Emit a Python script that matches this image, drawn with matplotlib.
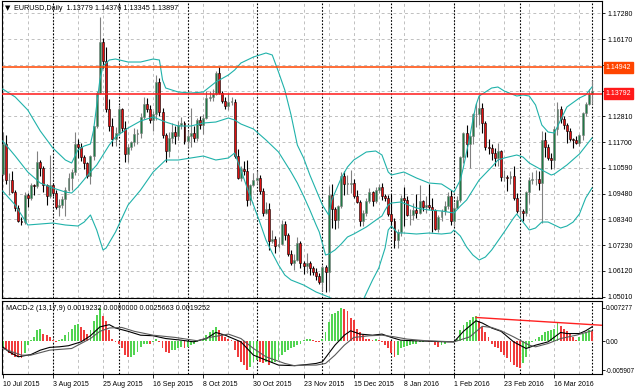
import matplotlib
matplotlib.use('Agg')
import matplotlib.pyplot as plt

plt.rcParams['font.family'] = ['Liberation Sans', 'DejaVu Sans']

# ---------------- data ----------------
opens = [1.1033, 1.1160, 1.1005, 1.1005, 1.0955, 1.0885, 1.0830, 1.0825, 1.0940, 1.0930,
         1.0985, 1.0980, 1.1085, 1.1060, 1.0985, 1.0935, 1.0985, 1.0950, 1.0890, 1.0900,
         1.0925, 1.0965, 1.1015, 1.1040, 1.1160, 1.1150, 1.1105, 1.1080, 1.1025, 1.1110,
         1.1240, 1.1385, 1.1605, 1.1520, 1.1315, 1.1240, 1.1185, 1.1210, 1.1315, 1.1230,
         1.1120, 1.1150, 1.1170, 1.1205, 1.1210, 1.1280, 1.1335, 1.1315, 1.1265, 1.1290,
         1.1430, 1.1300, 1.1200, 1.1130, 1.1190, 1.1215, 1.1195, 1.1245, 1.1255, 1.1175,
         1.1195, 1.1210, 1.1190, 1.1265, 1.1245, 1.1275, 1.1360, 1.1365, 1.1380, 1.1470,
         1.1385, 1.1350, 1.1325, 1.1345, 1.1345, 1.1110, 1.1015, 1.1055, 1.1045, 1.0920,
         1.0985, 1.1005, 1.1015, 1.0960, 1.0865, 1.0880, 1.0740, 1.0750, 1.0720, 1.0730,
         1.0815, 1.0770, 1.0685, 1.0645, 1.0660, 1.0735, 1.0645, 1.0635, 1.0645, 1.0625,
         1.0610, 1.0590, 1.0565, 1.0630, 1.0610, 1.0940, 1.0880, 1.0835, 1.0895, 1.1025,
         1.0990, 1.0990, 1.0995, 1.0935, 1.0910, 1.0830, 1.0865, 1.0915, 1.0955, 1.0915,
         1.0965, 1.0975, 1.0935, 1.0930, 1.0860, 1.0830, 1.0745, 1.0780, 1.0930, 1.0920,
         1.0855, 1.0855, 1.0875, 1.0865, 1.0915, 1.0890, 1.0900, 1.0890, 1.0875, 1.0795,
         1.0845, 1.0870, 1.0895, 1.0935, 1.0830, 1.0885, 1.0920, 1.1105, 1.1210, 1.1160,
         1.1195, 1.1290, 1.1290, 1.1320, 1.1255, 1.1150, 1.1145, 1.1125, 1.1100, 1.1130,
         1.1020, 1.1020, 1.1015, 1.1025, 1.0930, 1.0870, 1.0870, 1.0865, 1.0955, 1.1005,
         1.1010, 1.1010, 1.0995, 1.1180, 1.1150, 1.1100, 1.1095, 1.1225, 1.1315, 1.1270,
         1.1245, 1.1220, 1.1185, 1.1180, 1.1165, 1.1200, 1.1295, 1.1335, 1.13779]
highs = [1.1215, 1.1200, 1.1035, 1.1045, 1.0965, 1.0900, 1.0845, 1.0955, 1.0950, 1.0995,
         1.0990, 1.1130, 1.1095, 1.1065, 1.0990, 1.1115, 1.0995, 1.0965, 1.0925, 1.0935,
         1.0975, 1.1035, 1.1055, 1.1215, 1.1185, 1.1165, 1.1115, 1.1085, 1.1115, 1.1240,
         1.1390, 1.1714, 1.1620, 1.1580, 1.1355, 1.1275, 1.1235, 1.1330, 1.1320, 1.1260,
         1.1160, 1.1175, 1.1230, 1.1225, 1.1295, 1.1365, 1.1360, 1.1330, 1.1305, 1.1460,
         1.1450, 1.1320, 1.1210, 1.1215, 1.1255, 1.1240, 1.1260, 1.1280, 1.1260, 1.1220,
         1.1320, 1.1240, 1.1275, 1.1285, 1.1290, 1.1390, 1.1390, 1.1400, 1.1480, 1.1495,
         1.1390, 1.1365, 1.1385, 1.1365, 1.1355, 1.1140, 1.1065, 1.1090, 1.1095, 1.0990,
         1.1035, 1.1045, 1.1030, 1.0970, 1.0910, 1.0905, 1.0790, 1.0765, 1.0760, 1.0835,
         1.0830, 1.0775, 1.0705, 1.0685, 1.0760, 1.0740, 1.0655, 1.0690, 1.0655, 1.0635,
         1.0625, 1.0605, 1.0640, 1.0640, 1.0980, 1.0990, 1.0890, 1.0900, 1.1040, 1.1045,
         1.1030, 1.1050, 1.1010, 1.0965, 1.0920, 1.0875, 1.0930, 1.0970, 1.0960, 1.0975,
         1.0990, 1.0995, 1.0945, 1.0940, 1.0945, 1.0840, 1.0795, 1.0940, 1.0975, 1.0935,
         1.0880, 1.0905, 1.0945, 1.0985, 1.0920, 1.0935, 1.0990, 1.0930, 1.0880, 1.0855,
         1.0880, 1.0915, 1.0955, 1.0965, 1.0905, 1.0935, 1.1110, 1.1215, 1.1245, 1.1200,
         1.1295, 1.1340, 1.1376, 1.1340, 1.1260, 1.1185, 1.1160, 1.1145, 1.1165, 1.1135,
         1.1050, 1.1030, 1.1045, 1.1065, 1.0950, 1.0890, 1.0880, 1.0960, 1.1020, 1.1040,
         1.1050, 1.1045, 1.1218, 1.1215, 1.1160, 1.1125, 1.1240, 1.1342, 1.1325, 1.1285,
         1.1255, 1.1230, 1.1190, 1.1195, 1.1205, 1.1300, 1.1345, 1.1400, 1.14376]
lows = [1.1030, 1.0990, 1.0940, 1.0950, 1.0870, 1.0825, 1.0810, 1.0815, 1.0890, 1.0920,
        1.0940, 1.0970, 1.1025, 1.0955, 1.0900, 1.0930, 1.0935, 1.0880, 1.0850, 1.0885,
        1.0850, 1.0960, 1.0965, 1.1030, 1.1100, 1.1090, 1.1055, 1.1015, 1.0990, 1.1095,
        1.1230, 1.1380, 1.1490, 1.1300, 1.1220, 1.1155, 1.1155, 1.1200, 1.1215, 1.1085,
        1.1085, 1.1135, 1.1155, 1.1160, 1.1190, 1.1270, 1.1300, 1.1255, 1.1220, 1.1265,
        1.1285, 1.1190, 1.1085, 1.1105, 1.1165, 1.1160, 1.1180, 1.1225, 1.1160, 1.1150,
        1.1150, 1.1170, 1.1175, 1.1225, 1.1205, 1.1270, 1.1350, 1.1350, 1.1375, 1.1380,
        1.1340, 1.1315, 1.1310, 1.1330, 1.1100, 1.1010, 1.1000, 1.1030, 1.0895, 1.0900,
        1.0980, 1.0990, 1.0945, 1.0850, 1.0860, 1.0705, 1.0735, 1.0690, 1.0710, 1.0725,
        1.0745, 1.0675, 1.0640, 1.0615, 1.0655, 1.0625, 1.0600, 1.0605, 1.0595, 1.0595,
        1.0575, 1.0555, 1.0525, 1.0520, 1.0525, 1.0800, 1.0795, 1.0800, 1.0885, 1.0940,
        1.0945, 1.0950, 1.0930, 1.0905, 1.0805, 1.0805, 1.0850, 1.0905, 1.0895, 1.0905,
        1.0950, 1.0920, 1.0915, 1.0850, 1.0800, 1.0710, 1.0710, 1.0765, 1.0805, 1.0850,
        1.0810, 1.0835, 1.0840, 1.0860, 1.0870, 1.0865, 1.0880, 1.0780, 1.0790, 1.0780,
        1.0830, 1.0855, 1.0880, 1.0810, 1.0805, 1.0885, 1.0910, 1.1080, 1.1105, 1.1060,
        1.1160, 1.1235, 1.1245, 1.1210, 1.1135, 1.1120, 1.1095, 1.1065, 1.1065, 1.1000,
        1.1000, 1.0960, 1.0990, 1.0920, 1.0865, 1.0840, 1.0830, 1.0850, 1.0905, 1.0990,
        1.0985, 1.0965, 1.0822, 1.1105, 1.1095, 1.1055, 1.1060, 1.1200, 1.1255, 1.1225,
        1.1165, 1.1175, 1.1145, 1.1160, 1.1155, 1.1180, 1.1285, 1.1330, 1.13345]
closes = [1.1160, 1.1005, 1.1005, 1.0955, 1.0885, 1.0830, 1.0825, 1.0940, 1.0930, 1.0985,
          1.0980, 1.1085, 1.1060, 1.0985, 1.0935, 1.0985, 1.0950, 1.0890, 1.0900, 1.0925,
          1.0965, 1.1015, 1.1040, 1.1160, 1.1150, 1.1105, 1.1080, 1.1025, 1.1110, 1.1240,
          1.1385, 1.1605, 1.1520, 1.1315, 1.1240, 1.1185, 1.1210, 1.1315, 1.1230, 1.1120,
          1.1150, 1.1170, 1.1205, 1.1210, 1.1280, 1.1335, 1.1315, 1.1265, 1.1290, 1.1430,
          1.1300, 1.1200, 1.1130, 1.1190, 1.1215, 1.1195, 1.1245, 1.1255, 1.1175, 1.1195,
          1.1210, 1.1190, 1.1265, 1.1245, 1.1275, 1.1360, 1.1365, 1.1380, 1.1470, 1.1385,
          1.1350, 1.1325, 1.1345, 1.1345, 1.1110, 1.1015, 1.1055, 1.1045, 1.0920, 1.0985,
          1.1005, 1.1015, 1.0960, 1.0865, 1.0880, 1.0740, 1.0750, 1.0720, 1.0730, 1.0815,
          1.0770, 1.0685, 1.0645, 1.0660, 1.0735, 1.0645, 1.0635, 1.0645, 1.0625, 1.0610,
          1.0590, 1.0565, 1.0630, 1.0610, 1.0940, 1.0880, 1.0835, 1.0895, 1.1025, 1.0990,
          1.0990, 1.0995, 1.0935, 1.0910, 1.0830, 1.0865, 1.0915, 1.0955, 1.0915, 1.0965,
          1.0975, 1.0935, 1.0930, 1.0860, 1.0830, 1.0745, 1.0780, 1.0930, 1.0920, 1.0855,
          1.0855, 1.0875, 1.0865, 1.0915, 1.0890, 1.0900, 1.0890, 1.0875, 1.0795, 1.0845,
          1.0870, 1.0895, 1.0935, 1.0830, 1.0885, 1.0920, 1.1105, 1.1210, 1.1160, 1.1195,
          1.1290, 1.1290, 1.1320, 1.1255, 1.1150, 1.1145, 1.1125, 1.1100, 1.1130, 1.1020,
          1.1020, 1.1015, 1.1025, 1.0930, 1.0870, 1.0870, 1.0865, 1.0955, 1.1005, 1.1010,
          1.1010, 1.0995, 1.1180, 1.1150, 1.1100, 1.1095, 1.1225, 1.1315, 1.1270, 1.1245,
          1.1220, 1.1185, 1.1180, 1.1165, 1.1200, 1.1295, 1.1335, 1.1380, 1.13897]

# Bollinger bands read at sample bars
bb_up_idx = [0, 4, 8, 12, 16, 20, 22, 24, 26, 28, 29, 30, 31, 32, 34, 36, 40, 44, 48, 50,
             51, 52, 56, 60, 64, 66, 68, 72, 74, 76, 80, 84, 86, 88, 90, 92, 94, 96, 98, 100,
             102, 104, 105, 108, 110, 112, 116, 119, 121, 123, 124, 128, 132, 136, 140, 143,
             144, 146, 147, 148, 149, 150, 151, 152, 156, 158, 160, 164, 166, 168, 170, 172,
             174, 176, 178, 180, 184, 186, 188]
bb_up = [1.14002, 1.13656, 1.13093, 1.12184, 1.11448, 1.10928, 1.10798, 1.11361, 1.11534,
         1.11621, 1.12227, 1.13310, 1.14392, 1.14998, 1.15258, 1.15301, 1.15171, 1.15171,
         1.15301, 1.15258, 1.14392, 1.14046, 1.13872, 1.13829, 1.13872, 1.14089, 1.14305,
         1.14609, 1.14825, 1.15128, 1.15388, 1.15561, 1.15475, 1.14738, 1.13959, 1.12877,
         1.11578, 1.11015, 1.10279, 1.09629, 1.08980, 1.08547, 1.09196, 1.10149, 1.10625,
         1.10928, 1.11274, 1.11318, 1.11145, 1.10408, 1.10279, 1.10408, 1.10149, 1.09932,
         1.09889, 1.09629, 1.09542, 1.10062, 1.10625, 1.11274, 1.11924, 1.12660, 1.13310,
         1.13699, 1.14046, 1.14089, 1.13916, 1.13699, 1.13743, 1.13699, 1.13310, 1.12444,
         1.12140, 1.12097, 1.12660, 1.13223, 1.13613, 1.13743, 1.14089]
bb_mid_idx = [0, 4, 8, 12, 16, 20, 22, 24, 28, 30, 32, 34, 36, 40, 44, 48, 52, 56, 60, 64,
              68, 72, 74, 76, 80, 84, 88, 92, 94, 96, 98, 100, 101, 103, 104, 106, 108, 110,
              112, 116, 120, 121, 122, 123, 124, 127, 132, 136, 140, 144, 146, 148, 152, 156,
              158, 160, 164, 166, 168, 172, 175, 176, 180, 184, 188]
bb_mid = [1.11751, 1.11101, 1.10408, 1.09932, 1.09716, 1.09542, 1.09499, 1.09759, 1.10408,
          1.10712, 1.11145, 1.11578, 1.11924, 1.12314, 1.12617, 1.12790, 1.12573, 1.12400,
          1.12400, 1.12530, 1.12573, 1.12747, 1.12660, 1.12487, 1.12270, 1.11794, 1.11274,
          1.10408, 1.09932, 1.09369, 1.08763, 1.08114, 1.07810, 1.06815, 1.06858, 1.07031,
          1.07291, 1.07594, 1.07724, 1.08027, 1.08417, 1.08503, 1.08763, 1.08980, 1.09066,
          1.09109, 1.08850, 1.08763, 1.08720, 1.08633, 1.08936, 1.09196, 1.10062, 1.10625,
          1.10928, 1.11015, 1.11145, 1.11058, 1.10798, 1.10495, 1.10279, 1.10322, 1.10712,
          1.11188, 1.11881]
bb_lo_idx = [0, 4, 8, 12, 16, 20, 24, 26, 28, 30, 32, 33, 36, 40, 44, 48, 52, 56, 60, 64,
             68, 72, 74, 76, 78, 80, 82, 84, 86, 88, 90, 92, 96, 100, 104, 108, 112, 115, 118,
             120, 122, 123, 124, 126, 128, 132, 136, 140, 143, 144, 146, 148, 150, 152, 154,
             156, 160, 163, 164, 166, 168, 170, 172, 174, 176, 178, 180, 182, 184, 186, 188]
bb_lo = [1.09586, 1.08980, 1.08114, 1.08157, 1.08200, 1.08114, 1.08070, 1.08243, 1.08547,
         1.07897, 1.07031, 1.07118, 1.07810, 1.08980, 1.09629, 1.10408, 1.10928, 1.10928,
         1.11015, 1.11101, 1.10928, 1.11015, 1.11231, 1.10495, 1.09716, 1.08980, 1.08243,
         1.07464, 1.06901, 1.06382, 1.05949, 1.05732, 1.05516, 1.05212, 1.04996, 1.04650,
         1.04606, 1.04866, 1.05732, 1.06252, 1.07118, 1.07897, 1.08070, 1.07767, 1.07767,
         1.07724, 1.07767, 1.07724, 1.07767, 1.07897, 1.07637, 1.07161, 1.06815, 1.06598,
         1.06728, 1.07031, 1.07810, 1.08417, 1.08590, 1.08243, 1.07897, 1.07984, 1.08243,
         1.08243, 1.08114, 1.07984, 1.08070, 1.08243, 1.08590, 1.09283, 1.09716]

# MACD-2 histogram, one value per bar (units of 1e-4)
macd_hist = [-13, -16, -22, -25, -28, -29, -31, -22, -7, 2,
             8, 20, 23, 14, 11, 8, 2, -1, 2, 5,
             11, 17, 23, 29, 31, 26, 20, 13, 20, 36,
             48, 60, 45, 36, 20, 5, -1, -4, -13, -25,
             -28, -28, -25, -19, -10, -4, -4, -5, -1, 5,
             -1, -13, -19, -22, -16, -16, -13, -10, -13, -10,
             -7, -5, -1, 1, 5, 11, 16, 20, 25, 20,
             14, 8, 5, 2, -16, -28, -37, -43, -52, -46,
             -37, -34, -37, -40, -37, -43, -40, -37, -34, -25,
             -19, -16, -13, -10, -7, -4, 3, 4, 5, 3,
             -1, -2, 5, 17, 35, 49, 51, 54, 61, 58,
             55, 42, 39, 23, 17, 11, 5, 4, 2, 4,
             2, -1, -7, -13, -22, -28, -25, -13, -10, -8,
             -7, -5, -4, -2, -1, 1, -1, -2, -7, -10,
             -7, -4, -1, -2, -1, 5, 20, 29, 35, 39,
             43, 45, 36, 26, 17, 8, -4, -10, -13, -19,
             -25, -31, -37, -43, -46, -48, -40, -28, -13, -1,
             4, 7, 11, 16, 19, 21, 23, 33, 28, 23,
             19, 14, 8, 2, 8, 14, 17, 20, 19]
macd_a_idx = [0, 2, 5, 9, 12, 15, 18, 21, 25, 28, 31, 34, 36, 40, 44, 48, 52, 57, 61, 65,
              68, 71, 76, 80, 84, 88, 93, 97, 100, 102, 104, 106, 109, 111, 114, 118, 121, 124,
              127, 131, 142, 144, 147, 151, 153, 156, 159, 163, 167, 170, 174, 178, 180, 184,
              186, 188]
macd_a = [-10, -19, -28, -24, -16, -11, -10, -8, -1, 10, 26, 30, 24, 18, 11, 10, 5, 2, -1, 5,
          16, 11, -1, -25, -34, -43, -44, -42, -40, -37, -22, -7, 11, 19, 13, 11, 13, 7, 2, 1,
          -1, -1, 18, 37, 33, 24, 18, -1, -13, -7, -1, 16, 14, 14, 19, 26]
macd_b_idx = [0, 6, 9, 15, 22, 25, 28, 31, 34, 38, 42, 48, 55, 62, 66, 72, 76, 80, 84, 90,
              93, 97, 100, 103, 106, 109, 112, 117, 121, 125, 129, 135, 144, 149, 153, 156, 159,
              163, 168, 170, 174, 178, 183, 188]
macd_b = [-13, -25, -25, -16, -13, -4, 5, 18, 24, 25, 18, 11, 7, 1, 7, 13, 5, -13, -28, -40,
          -44, -43, -43, -40, -25, -7, 7, 10, 11, 8, 4, 1, -1, 8, 27, 25, 19, 8, -7, -10,
          -4, 5, 11, 19]
trend_idx = [151, 191]
trend_val = [43, 29]

date_idx = [0, 16, 32, 48, 64, 80, 96, 112, 128, 144, 160, 176]
date_labels = ['10 Jul 2015', '3 Aug 2015', '25 Aug 2015', '16 Sep 2015', '8 Oct 2015',
               '30 Oct 2015', '23 Nov 2015', '15 Dec 2015', '8 Jan 2016', '1 Feb 2016',
               '23 Feb 2016', '16 Mar 2016']
month_sep_idx = [16, 37, 59, 81, 102, 124, 144, 165, 188]
price_grid = [1.17280, 1.16165, 1.15049, 1.13934, 1.12818, 1.11703, 1.10587, 1.09472,
              1.08356, 1.07241, 1.06125, 1.05010]
price_labels = ['1.17280', '1.16170', '', '', '1.12810', '1.11700', '1.10590', '1.09480',
                '1.08340', '1.07230', '1.06120', '1.05010']
level_prices = [1.14942, 1.13792]
level_labels = ['1.14942', '1.13792']
level_colors = ['#FF4500', '#FF1A1A']
macd_tick_pos = [0.0061, 0.0, -0.0052]
macd_tick_labels = ['0.007277', '0.00', '-0.005907']
title = 'EURUSD,Daily  1.13779 1.14376 1.13345 1.13897'
macd_title = 'MACD-2 (13,17,9) 0.0019232 0.0000000 0.0025663 0.0019252'

# ---------------- layout ----------------
W, H = 635, 391
fig = plt.figure(figsize=(W / 100, H / 100), dpi=100)
fig.patch.set_facecolor('white')


def rect(l, t, r, b):
    return [l / W, 1 - b / H, (r - l) / W, (b - t) / H]


ax = fig.add_axes(rect(2, 1, 602, 298))
axm = fig.add_axes(rect(2, 301, 602, 374))
XL, XR = -0.22, 191.2
FS = 5.0
GRID = '#C0C0C0'
BAND = '#20B2AA'

for a in (ax, axm):
    a.set_xlim(XL, XR)
    for s in a.spines.values():
        s.set_color('black')
        s.set_linewidth(0.8)
    for i in range(0, 192, 8):
        a.axvline(i, color=GRID, lw=0.7, ls=(0, (3, 3)), zorder=0)
    for i in month_sep_idx:
        a.axvline(i, color='black', lw=0.8, ls=(0, (1.5, 1.5)), zorder=0.5)

ax.set_ylim(1.04953, 1.17813)
for p in price_grid:
    ax.axhline(p, color=GRID, lw=0.7, ls=(0, (3, 3)), zorder=0)

# candles
n = len(closes)
xs = list(range(n))
body_cols, wick_cols, bottoms, heights = [], [], [], []
for o, c in zip(opens, closes):
    up = c >= o
    body_cols.append('#1F7A45' if up else '#E01010')
    wick_cols.append('#808080' if up else '#000000')
    bottoms.append(min(o, c))
    heights.append(max(abs(c - o), 0.00012))
ax.vlines(xs, lows, highs, colors=wick_cols, lw=0.8, zorder=2)
ax.bar(xs, heights, bottom=bottoms, width=0.62, color=body_cols, edgecolor=wick_cols,
       linewidth=0.4, zorder=3)

# bollinger bands
ax.plot(bb_up_idx, bb_up, color=BAND, lw=0.8, zorder=4)
ax.plot(bb_mid_idx, bb_mid, color=BAND, lw=0.8, zorder=4)
ax.plot(bb_lo_idx, bb_lo, color=BAND, lw=0.8, zorder=4)

# horizontal levels
for p, lab, col in zip(level_prices, level_labels, level_colors):
    ax.axhline(p, color=col, lw=1.1, zorder=5)
    ax.annotate(lab, xy=(1.0, p), xycoords=('axes fraction', 'data'), xytext=(2.6, 0),
                textcoords='offset points', ha='left', va='center', color='white',
                fontsize=FS, annotation_clip=False,
                bbox=dict(boxstyle='square,pad=0.3', fc=col, ec=col))

ax.yaxis.tick_right()
ax.set_yticks(price_grid)
ax.set_yticklabels(price_labels)
ax.tick_params(axis='y', length=2.5, width=0.6, pad=1.5, labelsize=FS)
ax.set_xticks([])

# MACD panel
hist = [v * 1e-4 for v in macd_hist]
hcols = []
for i, v in enumerate(hist):
    rising = i == 0 or v >= hist[i - 1]
    hcols.append('#52D452' if rising else '#F03C3C')
axm.bar(xs, hist, width=0.6, color=hcols, zorder=2)
axm.plot(macd_a_idx, [v * 1e-4 for v in macd_a], color='black', lw=0.8, zorder=3)
axm.plot(macd_b_idx, [v * 1e-4 for v in macd_b], color='#5A5A5A', lw=0.8, zorder=3)
axm.plot(trend_idx, [v * 1e-4 for v in trend_val], color='#FF2020', lw=1.0, zorder=4,
         clip_on=True)
axm.set_ylim(-0.005907, 0.007277)
axm.yaxis.tick_right()
axm.set_yticks(macd_tick_pos)
axm.set_yticklabels(macd_tick_labels)
axm.tick_params(axis='y', length=2.0, width=0.6, pad=1.0, labelsize=4.7)
axm.set_xticks(date_idx)
axm.set_xticklabels(date_labels, ha='left')
axm.tick_params(axis='x', length=3, width=0.6, pad=2, labelsize=FS)

# titles
fig.text(4.5 / W, 1 - 8 / H, '\u25bc', fontsize=5, va='center', ha='left', family='DejaVu Sans')
fig.text(14 / W, 1 - 8 / H, title, fontsize=5.2, va='center', ha='left')
fig.text(6 / W, 1 - 308 / H, macd_title, fontsize=5.2, va='center', ha='left')

fig.savefig('out.png', dpi=100)
